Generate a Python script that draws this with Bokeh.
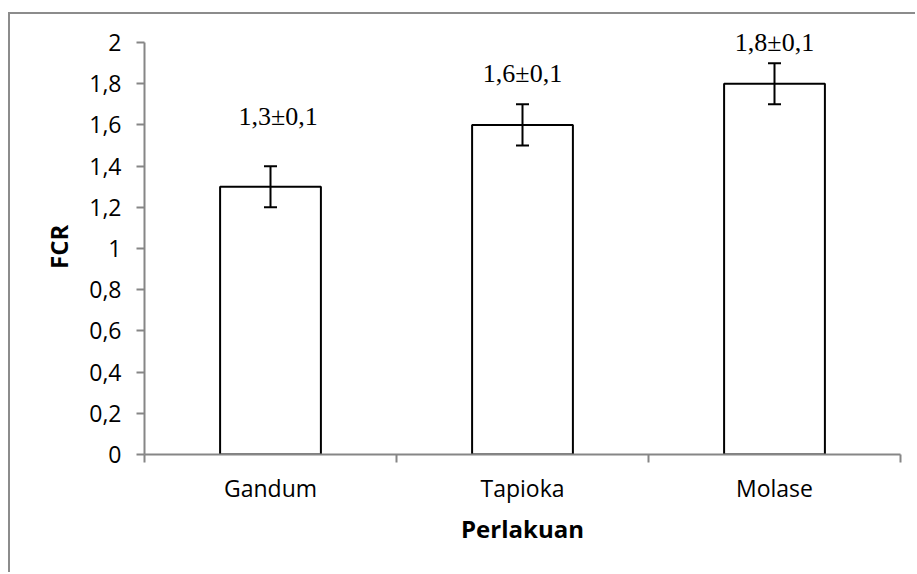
import math
from bokeh.plotting import figure
from bokeh.models import (ColumnDataSource, Range1d, FixedTicker, CustomJSTickFormatter,
                          Whisker, TeeHead)
from bokeh.core.properties import value
from bokeh.embed import file_html
from bokeh.resources import INLINE

# ---- data ----
categories = ["Gandum", "Tapioka", "Molase"]
fcr = [1.3, 1.6, 1.8]
sd = [0.1, 0.1, 0.1]
y_ticks = [0, 0.2, 0.4, 0.6, 0.8, 1.0, 1.2, 1.4, 1.6, 1.8, 2.0]

# label placement (layout)
label_x = [0.53, 1.5, 2.5]
label_y = [1.64, 1.85, 2.0]

def fmt(v):
    return f"{v:.1f}".replace(".", ",")

xc = [i + 0.5 for i in range(len(categories))]
src = ColumnDataSource(dict(
    x=xc, top=fcr,
    upper=[v + s for v, s in zip(fcr, sd)],
    lower=[v - s for v, s in zip(fcr, sd)],
    lx=label_x, ly=label_y,
    txt=[fmt(v) + "±" + fmt(s) for v, s in zip(fcr, sd)],
))

# page offsets of the outer chart-area border
OX, OY, BW = 8, 12, 2

p = figure(width=917 - OX - BW, height=574 - OY - BW, output_backend="svg",
           toolbar_location=None,
           x_range=Range1d(0, len(categories)), y_range=Range1d(0, 2.107),
           min_border_left=144 - OX - BW, min_border_right=17,
           min_border_top=20 - OY - BW, min_border_bottom=120)
p.margin = (OY, 0, 0, OX)
p.styles = {"border-top": f"{BW}px solid #8c8c8c", "border-left": f"{BW}px solid #8c8c8c"}
p.outline_line_color = None
p.grid.visible = False
p.background_fill_color = "white"
p.border_fill_color = "white"

AX = "#868686"
FONT = "Open Sans"

# x axis
xa = p.xaxis[0]
xa.ticker = FixedTicker(ticks=xc, minor_ticks=list(range(len(categories) + 1)))
xa.major_label_overrides = {x: c for x, c in zip(xc, categories)}
xa.major_tick_line_color = None
xa.minor_tick_line_color = AX
xa.minor_tick_line_width = 2
xa.minor_tick_in = 0
xa.minor_tick_out = 8
xa.axis_line_color = AX
xa.axis_line_width = 2
xa.major_label_text_font = FONT
xa.major_label_text_font_size = "23px"
xa.major_label_text_color = "black"
xa.major_label_standoff = 9
xa.axis_label = "Perlakuan"
xa.axis_label_text_font = FONT
xa.axis_label_text_font_size = "24px"
xa.axis_label_text_font_style = "bold"
xa.axis_label_text_color = "black"
xa.axis_label_standoff = 5

# y axis
ya = p.yaxis[0]
ya.ticker = FixedTicker(ticks=y_ticks, minor_ticks=[])
ya.formatter = CustomJSTickFormatter(code="""
    const s = (Math.round(tick * 10) / 10).toString();
    return s.replace('.', ',');
""")
ya.bounds = (0, 2)
ya.axis_line_color = AX
ya.axis_line_width = 2
ya.major_tick_line_color = AX
ya.major_tick_line_width = 2
ya.major_tick_in = 0
ya.major_tick_out = 8
ya.minor_tick_line_color = None
ya.major_label_text_font = FONT
ya.major_label_text_font_size = "23px"
ya.major_label_text_color = "black"
ya.major_label_standoff = 15
# non-breaking spaces pad the top end so the title centres on the 0..2 axis
ya.axis_label = "FCR" + "\u00a0" * 3
ya.axis_label_text_font = FONT
ya.axis_label_text_font_size = "24px"
ya.axis_label_text_font_style = "bold"
ya.axis_label_text_color = "black"
ya.axis_label_standoff = 11

# bars
p.vbar(x="x", top="top", width=0.4, bottom=0, source=src,
       fill_color="white", line_color="black", line_width=2)

# error bars
p.add_layout(Whisker(base="x", upper="upper", lower="lower", source=src,
                     line_color="black", line_width=2, level="annotation",
                     upper_head=TeeHead(size=13, line_color="black", line_width=2),
                     lower_head=TeeHead(size=13, line_color="black", line_width=2)))

# value labels
p.text(x="lx", y="ly", text="txt", source=src,
       text_font=value("Liberation Serif"), text_font_size="26px",
       text_align="center", text_baseline="middle", text_color="black")

open("out.html", "w").write(file_html(p, INLINE))
